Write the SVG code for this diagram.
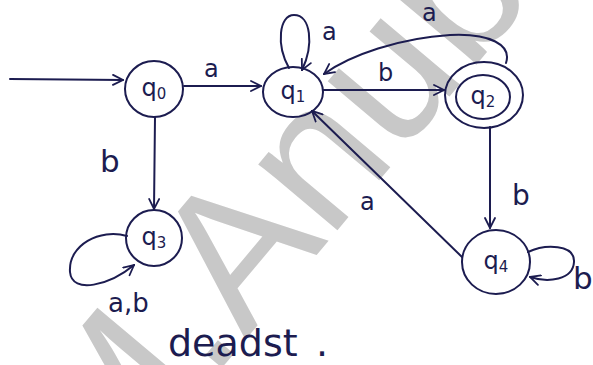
<svg xmlns="http://www.w3.org/2000/svg" width="593" height="365" viewBox="0 0 593 365">
  <style>
    .ink { fill: none; stroke: #1c1c50; stroke-width: 2; stroke-linecap: round; stroke-linejoin: round; }
    .lbl { font-family: "DejaVu Sans", "Liberation Sans", sans-serif; fill: #1c1c50; font-size: 24px; }
    .st  { font-family: "DejaVu Sans", "Liberation Sans", sans-serif; fill: #1c1c50; font-size: 24px; text-anchor: middle; }
    .sub { font-size: 15px; }
    .wm  { font-family: "Liberation Sans", Arial, sans-serif; fill: #c8c8c8; font-size: 195px; }
  </style>
  <defs>
    <marker id="arr" viewBox="0 0 12 12" refX="11" refY="6" markerWidth="12" markerHeight="12" markerUnits="userSpaceOnUse" orient="auto">
      <path d="M1,1 L11,6 L1,11" fill="none" stroke="#1c1c50" stroke-width="1.8" stroke-linecap="round"/>
    </marker>
  </defs>
  <rect width="593" height="365" fill="#ffffff"/>

  <!-- watermark -->
  <text class="wm" transform="translate(106,506) rotate(-50)">M.Anubolu</text>

  <!-- connectors -->
  <g id="edges">
    <path class="ink" d="M10,79 L123,80" marker-end="url(#arr)"/>
    <path class="ink" d="M184,86 L261,86" marker-end="url(#arr)"/>
    <path class="ink" d="M155,117 L154,209" marker-end="url(#arr)"/>
    <path class="ink" d="M323,90 L444,90" marker-end="url(#arr)"/>
    <path class="ink" d="M506,63 C512,45 490,33 450,35 C400,38 350,55 324,74" marker-end="url(#arr)"/>
    <path class="ink" d="M490,127 L490,228" marker-end="url(#arr)"/>
    <path class="ink" d="M462,257 L312,111" marker-end="url(#arr)"/>
    <!-- self loops -->
    <path class="ink" d="M289,68 C276,45 279,15 294,15 C311,15 314,45 302,70" marker-end="url(#arr)"/>
    <path class="ink" d="M528,252 C545,244 575,244 574,262 C573,280 548,283 530,277" marker-end="url(#arr)"/>
    <path class="ink" d="M127,236 C100,228 68,245 70,272 C72,295 110,285 134,265" marker-end="url(#arr)"/>
  </g>

  <!-- edge labels -->
  <g id="edge-labels">
    <text class="lbl" x="204" y="77">a</text>
    <text class="lbl" x="322" y="40">a</text>
    <text class="lbl" x="378" y="81">b</text>
    <text class="lbl" x="422" y="21">a</text>
    <text class="lbl" x="100" y="172" style="font-size:31px">b</text>
    <text class="lbl" x="512" y="205" style="font-size:28px">b</text>
    <text class="lbl" x="360" y="210">a</text>
    <text class="lbl" x="573" y="289" style="font-size:31px">b</text>
    <text class="lbl" x="108" y="312" style="font-size:26px">a,b</text>
  </g>

  <g id="q0">
    <ellipse class="ink" cx="154" cy="89" rx="29" ry="28"/>
    <text class="st" x="154" y="96">q<tspan class="sub" dy="3">0</tspan></text>
  </g>
  <g id="q1">
    <ellipse class="ink" cx="293" cy="92" rx="30" ry="25"/>
    <text class="st" x="293" y="99">q<tspan class="sub" dy="3">1</tspan></text>
  </g>
  <g id="q2">
    <ellipse class="ink" cx="484" cy="95" rx="39" ry="33"/>
    <ellipse class="ink" cx="483" cy="97" rx="27" ry="22"/>
    <text class="st" x="483" y="104">q<tspan class="sub" dy="3">2</tspan></text>
  </g>
  <g id="q3">
    <ellipse class="ink" cx="154" cy="238" rx="28" ry="28"/>
    <text class="st" x="154" y="245">q<tspan class="sub" dy="3">3</tspan></text>
  </g>
  <g id="q4">
    <ellipse class="ink" cx="496" cy="262" rx="34" ry="32"/>
    <text class="st" x="496" y="269">q<tspan class="sub" dy="3">4</tspan></text>
  </g>

  <text class="lbl" x="168" y="356" style="font-size:38px">deadst<tspan x="316">.</tspan></text>
</svg>
